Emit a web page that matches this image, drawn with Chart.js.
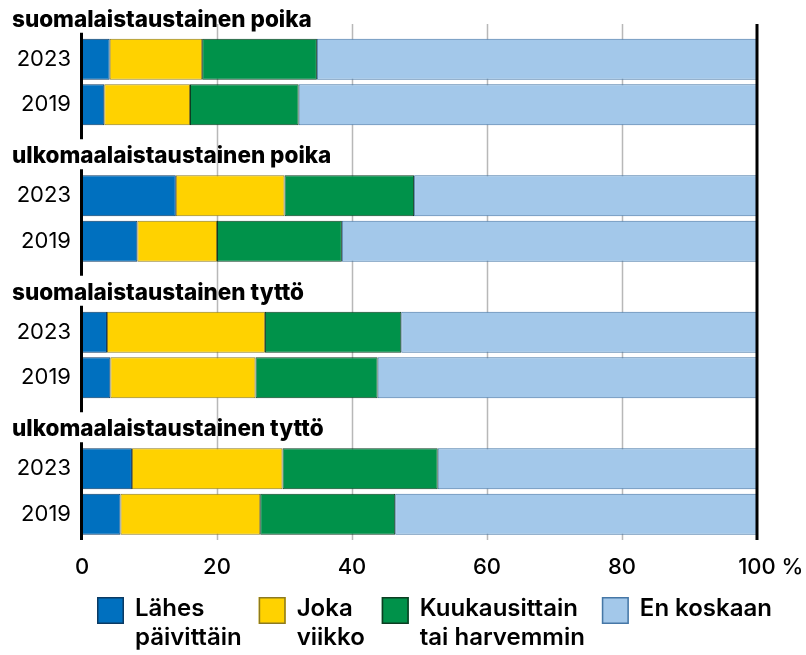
<!DOCTYPE html>
<html>
<head>
<meta charset="utf-8">
<script src="https://cdn.jsdelivr.net/npm/chart.js@4"></script>
<style>
  html, body { margin: 0; padding: 0; background: #fff; overflow: hidden; }
  #wrap { position: relative; width: 806px; height: 655px; overflow: hidden; }
  #chart { position: absolute; left: 0; top: -9px; }
</style>
</head>
<body>
<div id="wrap"><canvas id="chart" width="806" height="664"></canvas></div>
<script>
// groups (headers) and years per group
const groups = ["suomalaistaustainen poika", "ulkomaalaistaustainen poika",
                "suomalaistaustainen tyttö", "ulkomaalaistaustainen tyttö"];
const years = ["2023", "2019"];

// shares in %, one value per bar: group1 2023, group1 2019, group2 2023, ...
const lahesPaivittain = [4.1, 3.3, 13.9, 8.2, 3.7, 4.2, 7.4, 5.7];
const jokaViikko      = [13.7, 12.7, 16.1, 11.8, 23.4, 21.5, 22.3, 20.7];
const kuukausittain   = [17.0, 16.1, 19.2, 18.5, 20.2, 18.1, 23.0, 20.0];
const enKoskaan       = [65.2, 67.9, 50.8, 61.5, 52.7, 56.2, 47.3, 53.6];

const seriesNames = [["Lähes", "päivittäin"], ["Joka", "viikko"],
                     ["Kuukausittain", "tai harvemmin"], ["En koskaan"]];
const xTicks = [0, 20, 40, 60, 80, 100];

const fills   = ["#0070bf", "#ffd200", "#00924a", "#a3c8ea"];
const borders = ["#0b3a63", "#8c7a22", "#0d3d22", "#4677a6"];

// each group gets a header row followed by one row per year
const rowLabels = [];
groups.forEach(() => { rowLabels.push(""); years.forEach(y => rowLabels.push(y)); });

function toRows(values) {
  const out = [];
  let i = 0;
  groups.forEach(() => {
    out.push(null);
    years.forEach(() => out.push(values[i++]));
  });
  return out;
}

const allSeries = [lahesPaivittain, jokaViikko, kuukausittain, enKoskaan];
const datasets = allSeries.map((vals, k) => ({
  label: seriesNames[k].join(" "),
  data: toRows(vals),
  backgroundColor: fills[k],
  borderColor: borders[k],
  borderWidth: 1,
  borderSkipped: false,
  categoryPercentage: 1,
  barPercentage: 0.9
}));

const FONT = "Inter, 'Noto Sans', sans-serif";
const TICK_FONT = { family: FONT, size: 22, weight: 500 };

const decor = {
  id: "decor",
  beforeDatasetsDraw(chart) {
    const ctx = chart.ctx;
    const x = chart.scales.x;
    const top = 33, bottom = chart.chartArea.bottom + 3;
    ctx.save();
    // light grid lines
    ctx.strokeStyle = "#b8b8b8";
    ctx.lineWidth = 1.5;
    xTicks.slice(1, -1).forEach(v => {
      const px = Math.round(x.getPixelForValue(v)) + 0.5;
      ctx.beginPath(); ctx.moveTo(px, top); ctx.lineTo(px, bottom); ctx.stroke();
    });
    ctx.restore();
  },
  afterDatasetsDraw(chart) {
    const ctx = chart.ctx;
    const x = chart.scales.x, y = chart.scales.y;
    const bottom = chart.chartArea.bottom + 3;
    ctx.save();
    ctx.strokeStyle = "#000";
    ctx.lineWidth = 3;
    // right edge (100 %)
    const rx = x.getPixelForValue(100);
    ctx.beginPath(); ctx.moveTo(rx, 33); ctx.lineTo(rx, bottom); ctx.stroke();
    // left edge, broken at every group header
    const lx = x.getPixelForValue(0) - 0.5;
    const step = years.length + 1;
    groups.forEach((g, gi) => {
      const hy = y.getPixelForValue(gi * step) + 6;
      const y0 = hy + 13;
      const y1 = gi < groups.length - 1 ? y.getPixelForValue((gi + 1) * step) + 6 - 17 : bottom;
      ctx.beginPath(); ctx.moveTo(lx, y0); ctx.lineTo(lx, y1); ctx.stroke();
    });
    // group headers
    ctx.fillStyle = "#000";
    ctx.font = "800 22.5px " + FONT;
    ctx.textAlign = "left";
    ctx.textBaseline = "middle";
    groups.forEach((g, gi) => {
      ctx.fillText(g, 12, y.getPixelForValue(gi * step) + 6);
    });
    ctx.restore();
  },
  afterDraw(chart) {
    const ctx = chart.ctx;
    const x = chart.scales.x;
    ctx.save();
    // unit after the last tick label ("100" stays centred on its tick)
    ctx.font = "500 22px " + FONT;
    ctx.fillStyle = "#000";
    ctx.textAlign = "left";
    ctx.textBaseline = "middle";
    const last = x.ticks[x.ticks.length - 1];
    const endX = x.getPixelForValue(last.value) + ctx.measureText(String(last.label)).width / 2;
    ctx.fillText("\u2009%", endX + 2, chart.chartArea.bottom + 30);

    // legend with two-line labels
    ctx.font = "600 24px " + FONT;
    let lx = 97;
    const boxTop = 606, box = 27;
    seriesNames.forEach((lines, k) => {
      ctx.fillStyle = fills[k];
      ctx.fillRect(lx, boxTop, box, box);
      ctx.strokeStyle = borders[k];
      ctx.lineWidth = 1.5;
      ctx.strokeRect(lx + 0.75, boxTop + 0.75, box - 1.5, box - 1.5);
      ctx.fillStyle = "#000";
      let w = 0;
      lines.forEach((t, li) => {
        ctx.fillText(t, lx + box + 11, 618 + li * 29);
        w = Math.max(w, ctx.measureText(t).width);
      });
      lx += box + 11 + w + 17;
    });
    ctx.restore();
  }
};

new Chart(document.getElementById("chart"), {
  type: "bar",
  data: { labels: rowLabels, datasets: datasets },
  plugins: [decor],
  options: {
    indexAxis: "y",
    responsive: false,
    animation: false,
    layout: { padding: { left: 0, right: 49, top: 0, bottom: 0 } },
    plugins: { legend: { display: false }, tooltip: { enabled: false } },
    scales: {
      x: {
        stacked: true,
        min: 0, max: 100,
        afterBuildTicks: s => { s.ticks = xTicks.map(v => ({ value: v })); },
        afterFit: s => { s.height = 118; },
        grid: { display: false, drawTicks: false },
        border: { display: false },
        ticks: {
          padding: 17,
          color: "#000",
          font: TICK_FONT,
          callback: v => String(v)
        }
      },
      y: {
        stacked: true,
        afterFit: s => { s.width = 82; s.paddingTop = 0; s.paddingBottom = 0; },
        grid: { display: false, drawTicks: false },
        border: { display: false },
        ticks: {
          padding: 11,
          color: "#000",
          font: { family: FONT, size: 22 },
          autoSkip: false
        }
      }
    }
  }
});
</script>
</body>
</html>
